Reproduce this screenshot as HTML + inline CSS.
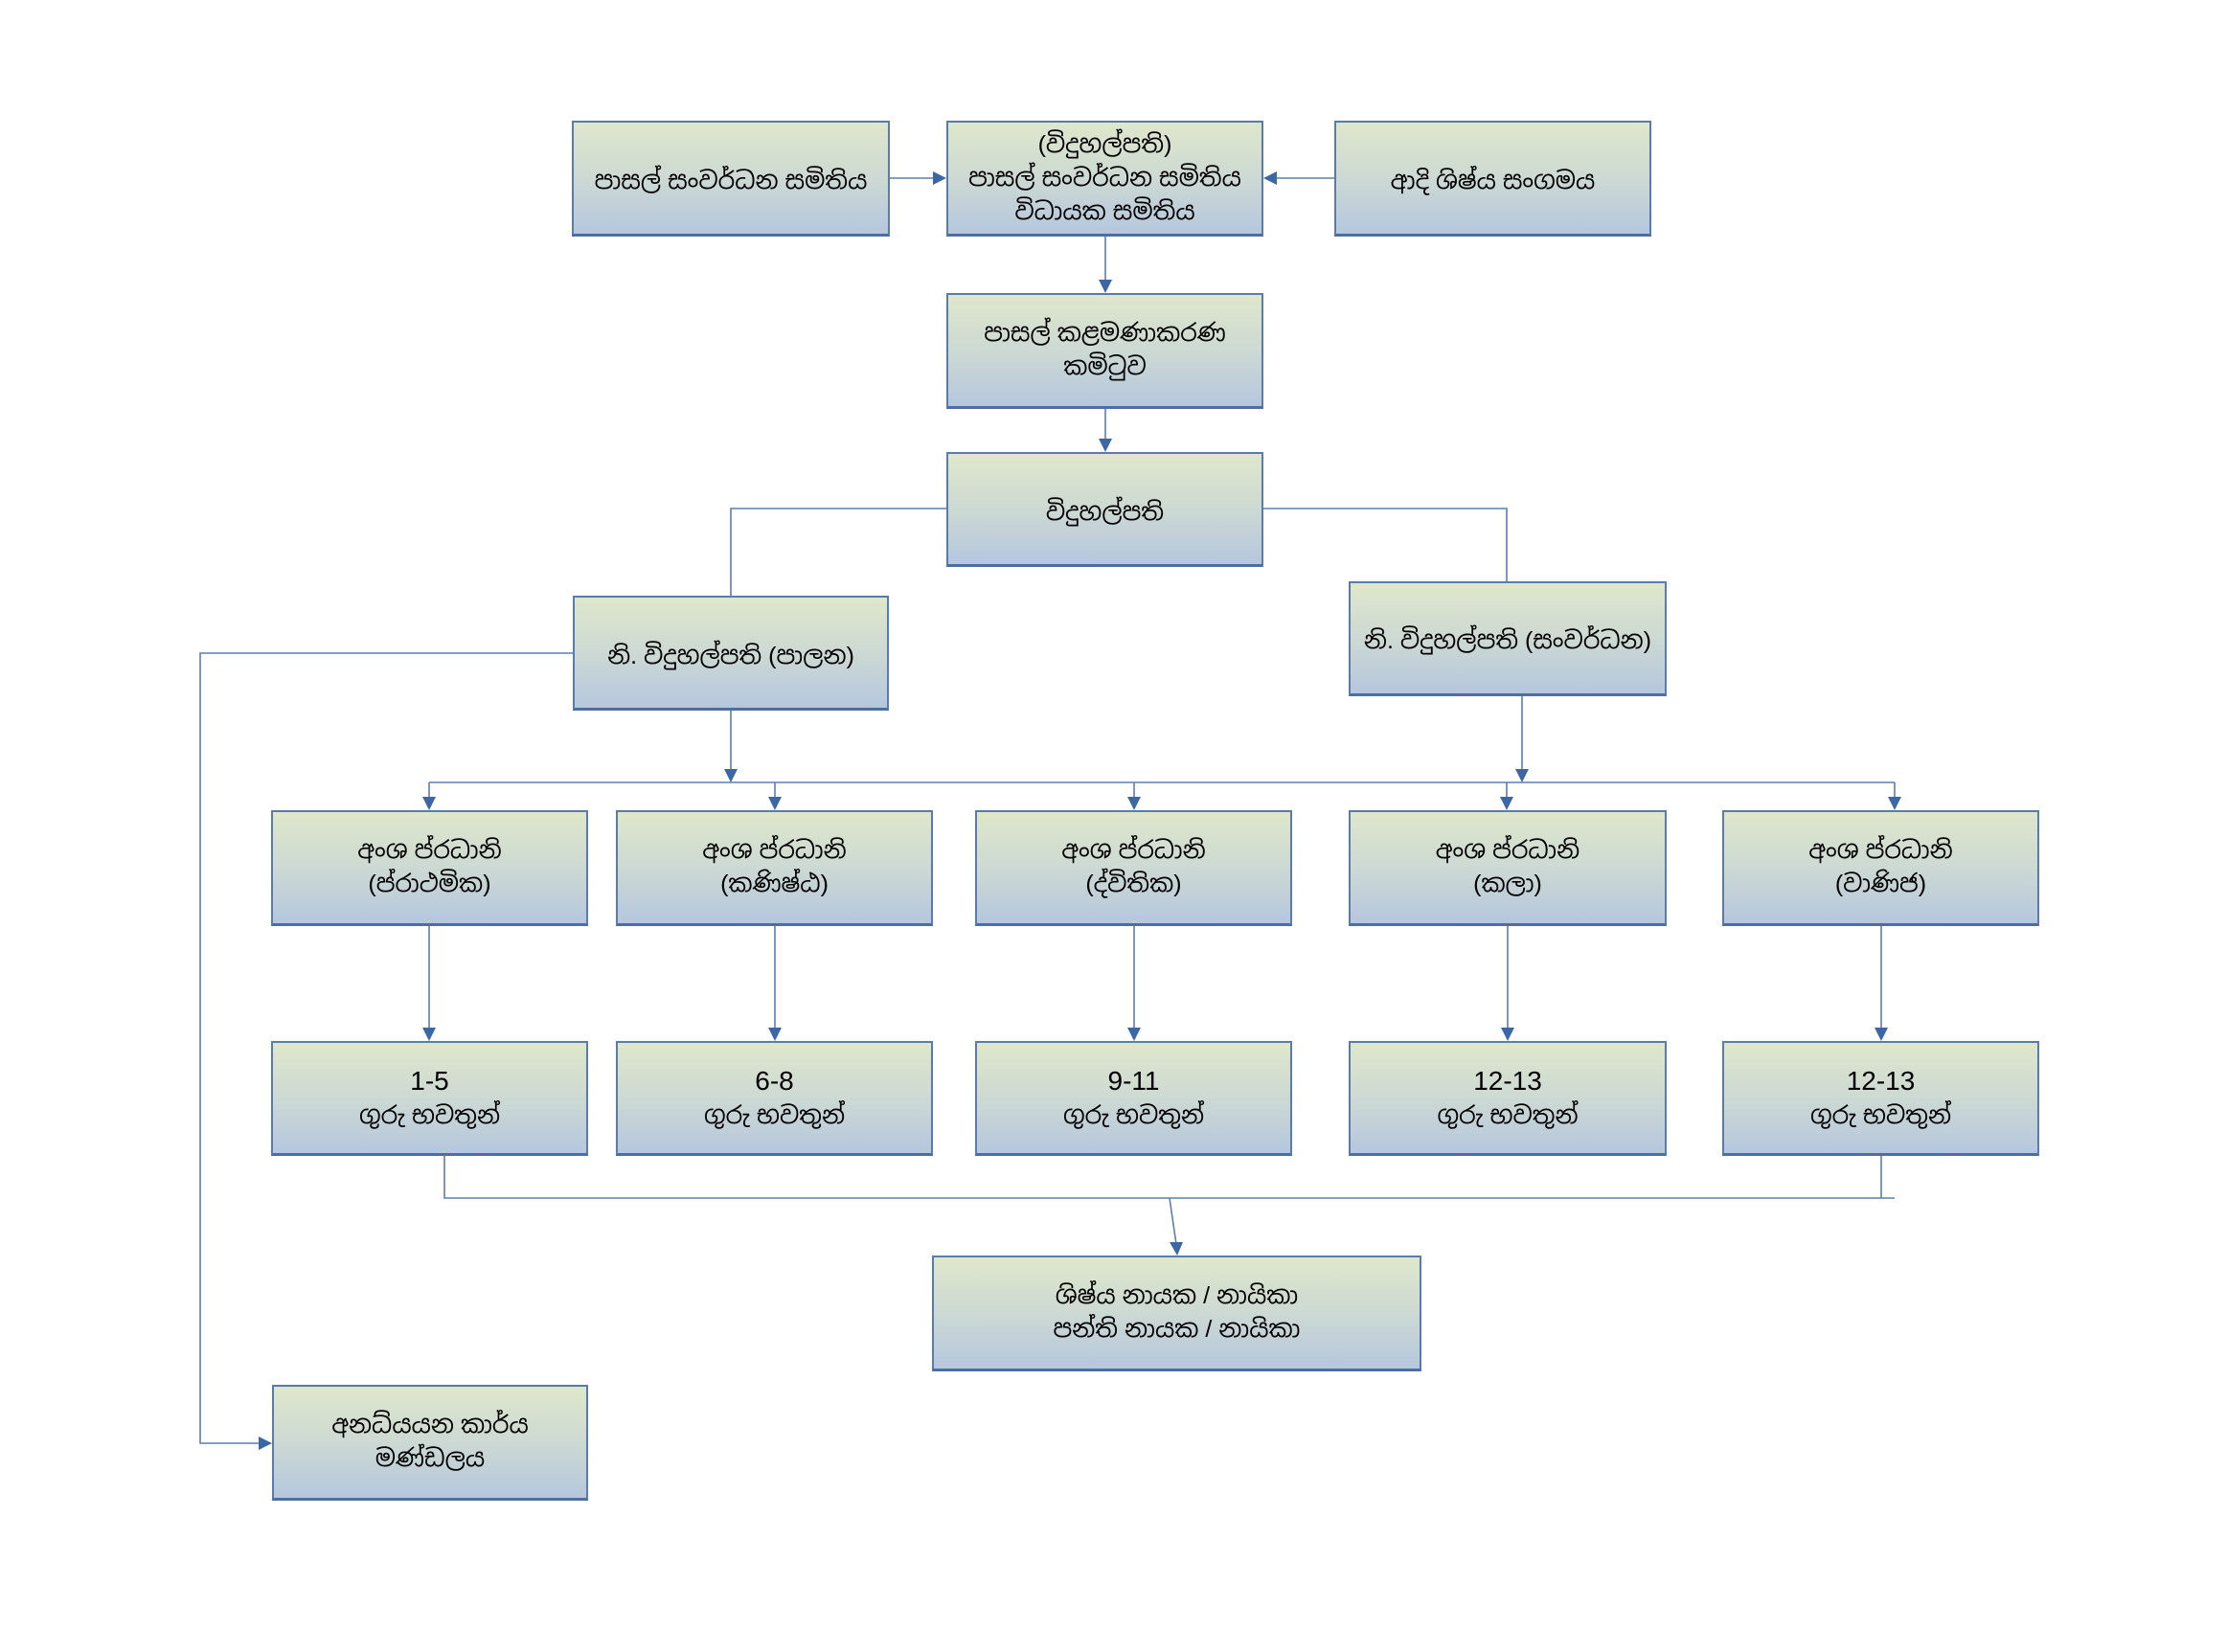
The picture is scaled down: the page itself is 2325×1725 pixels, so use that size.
<!DOCTYPE html>
<html>
<head>
<meta charset="utf-8">
<style>
  html, body { margin:0; padding:0; background:#ffffff; }
  body { width:2325px; height:1725px; position:relative; overflow:hidden;
         font-family:"Liberation Sans","Noto Sans Sinhala","Iskoola Pota","LKLUG","DejaVu Sans",sans-serif; }
  .b { position:absolute; box-sizing:border-box;
       background:linear-gradient(to bottom,#dfe7cb 0%,#cdd9d3 50%,#b5c7de 100%);
       border:2.5px solid #5a7cad; border-bottom:3.5px solid #4d6e9f;
       display:flex; flex-direction:column; align-items:center; justify-content:center;
       color:#000; font-size:25px; line-height:35px; text-align:center; white-space:nowrap; }
  .n { font-size:28px; line-height:37px; }
  svg { position:absolute; left:0; top:0; }
</style>
</head>
<body>

<svg width="2325" height="1725" viewBox="0 0 2325 1725">
  <g stroke="#5b7fb0" stroke-width="1.6" fill="none">
    <line x1="929" y1="186" x2="975" y2="186"/>
    <line x1="1393" y1="186" x2="1332" y2="186"/>
    <line x1="1154" y1="247" x2="1154" y2="293"/>
    <line x1="1154" y1="427" x2="1154" y2="459"/>
    <polyline points="988,531 763,531 763,622"/>
    <polyline points="1319,531 1573,531 1573,607"/>
    <line x1="763" y1="742" x2="763" y2="805"/>
    <line x1="1589" y1="727" x2="1589" y2="805"/>
    <line x1="448" y1="817" x2="1978" y2="817"/>
    <line x1="448" y1="817" x2="448" y2="834"/>
    <line x1="809" y1="817" x2="809" y2="834"/>
    <line x1="1184" y1="817" x2="1184" y2="834"/>
    <line x1="1573" y1="817" x2="1573" y2="834"/>
    <line x1="1978" y1="817" x2="1978" y2="834"/>
    <line x1="448" y1="967" x2="448" y2="1074"/>
    <line x1="809" y1="967" x2="809" y2="1074"/>
    <line x1="1184" y1="967" x2="1184" y2="1074"/>
    <line x1="1574" y1="967" x2="1574" y2="1074"/>
    <line x1="1964" y1="967" x2="1964" y2="1074"/>
    <polyline points="464,1207 464,1251 1978,1251"/>
    <line x1="1964" y1="1207" x2="1964" y2="1251"/>
    <line x1="1221" y1="1251" x2="1228" y2="1299"/>
    <polyline points="598,682 209,682 209,1507 271,1507"/>
  </g>
  <g fill="#3b67a5">
    <polygon points="974,179 974,193 988,186"/>
    <polygon points="270,1500 270,1514 284,1507"/>
    <polygon points="1333,179 1333,193 1319,186"/>
    <polygon points="1147,292 1161,292 1154,306"/>
    <polygon points="1147,458 1161,458 1154,472"/>
    <polygon points="756,803 770,803 763,817"/>
    <polygon points="1582,803 1596,803 1589,817"/>
    <polygon points="441,832 455,832 448,846"/>
    <polygon points="802,832 816,832 809,846"/>
    <polygon points="1177,832 1191,832 1184,846"/>
    <polygon points="1566,832 1580,832 1573,846"/>
    <polygon points="1971,832 1985,832 1978,846"/>
    <polygon points="441,1073 455,1073 448,1087"/>
    <polygon points="802,1073 816,1073 809,1087"/>
    <polygon points="1177,1073 1191,1073 1184,1087"/>
    <polygon points="1567,1073 1581,1073 1574,1087"/>
    <polygon points="1957,1073 1971,1073 1964,1087"/>
    <polygon points="1221,1297 1235,1297 1229,1311"/>
  </g>
</svg>

<div class="b" style="left:597px;top:126px;width:332px;height:121px;padding-top:6px;">
  <div>පාසල් සංවර්ධන සමිතිය</div>
</div>
<div class="b" style="left:988px;top:126px;width:331px;height:121px;">
  <div>(විදුහල්පති)</div>
  <div>පාසල් සංවර්ධන සමිතිය</div>
  <div>විධායක සමිතිය</div>
</div>
<div class="b" style="left:1393px;top:126px;width:331px;height:121px;padding-top:6px;">
  <div>ආදි ශිෂ්ය සංගමය</div>
</div>

<div class="b" style="left:988px;top:306px;width:331px;height:121px;">
  <div>පාසල් කළමණාකරණ</div>
  <div>කමිටුව</div>
</div>

<div class="b" style="left:988px;top:472px;width:331px;height:120px;padding-top:8px;">
  <div>විදුහල්පති</div>
</div>

<div class="b" style="left:598px;top:622px;width:330px;height:120px;padding-top:8px;">
  <div>නි. විදුහල්පති (පාලන)</div>
</div>
<div class="b" style="left:1408px;top:607px;width:332px;height:120px;padding-top:6px;">
  <div>නි. විදුහල්පති (සංවර්ධන)</div>
</div>

<div class="b" style="left:283px;top:846px;width:331px;height:121px;">
  <div>අංශ ප්රධානි</div><div>(ප්රාථමික)</div>
</div>
<div class="b" style="left:643px;top:846px;width:331px;height:121px;">
  <div>අංශ ප්රධානි</div><div>(කණිෂ්ඨ)</div>
</div>
<div class="b" style="left:1018px;top:846px;width:331px;height:121px;">
  <div>අංශ ප්රධානි</div><div>(ද්විතික)</div>
</div>
<div class="b" style="left:1408px;top:846px;width:332px;height:121px;">
  <div>අංශ ප්රධානි</div><div>(කලා)</div>
</div>
<div class="b" style="left:1798px;top:846px;width:331px;height:121px;">
  <div>අංශ ප්රධානි</div><div>(වාණිජ)</div>
</div>

<div class="b n" style="left:283px;top:1087px;width:331px;height:120px;">
  <div>1-5</div><div style="font-size:25px;">ගුරු භවතුන්</div>
</div>
<div class="b n" style="left:643px;top:1087px;width:331px;height:120px;">
  <div>6-8</div><div style="font-size:25px;">ගුරු භවතුන්</div>
</div>
<div class="b n" style="left:1018px;top:1087px;width:331px;height:120px;">
  <div>9-11</div><div style="font-size:25px;">ගුරු භවතුන්</div>
</div>
<div class="b n" style="left:1408px;top:1087px;width:332px;height:120px;">
  <div>12-13</div><div style="font-size:25px;">ගුරු භවතුන්</div>
</div>
<div class="b n" style="left:1798px;top:1087px;width:331px;height:120px;">
  <div>12-13</div><div style="font-size:25px;">ගුරු භවතුන්</div>
</div>

<div class="b" style="left:973px;top:1311px;width:511px;height:121px;">
  <div>ශිෂ්ය නායක / නායිකා</div>
  <div>පන්ති නායක / නායිකා</div>
</div>

<div class="b" style="left:284px;top:1446px;width:330px;height:121px;">
  <div>අනධ්යයන කාර්ය</div>
  <div>මණ්ඩලය</div>
</div>

</body>
</html>
